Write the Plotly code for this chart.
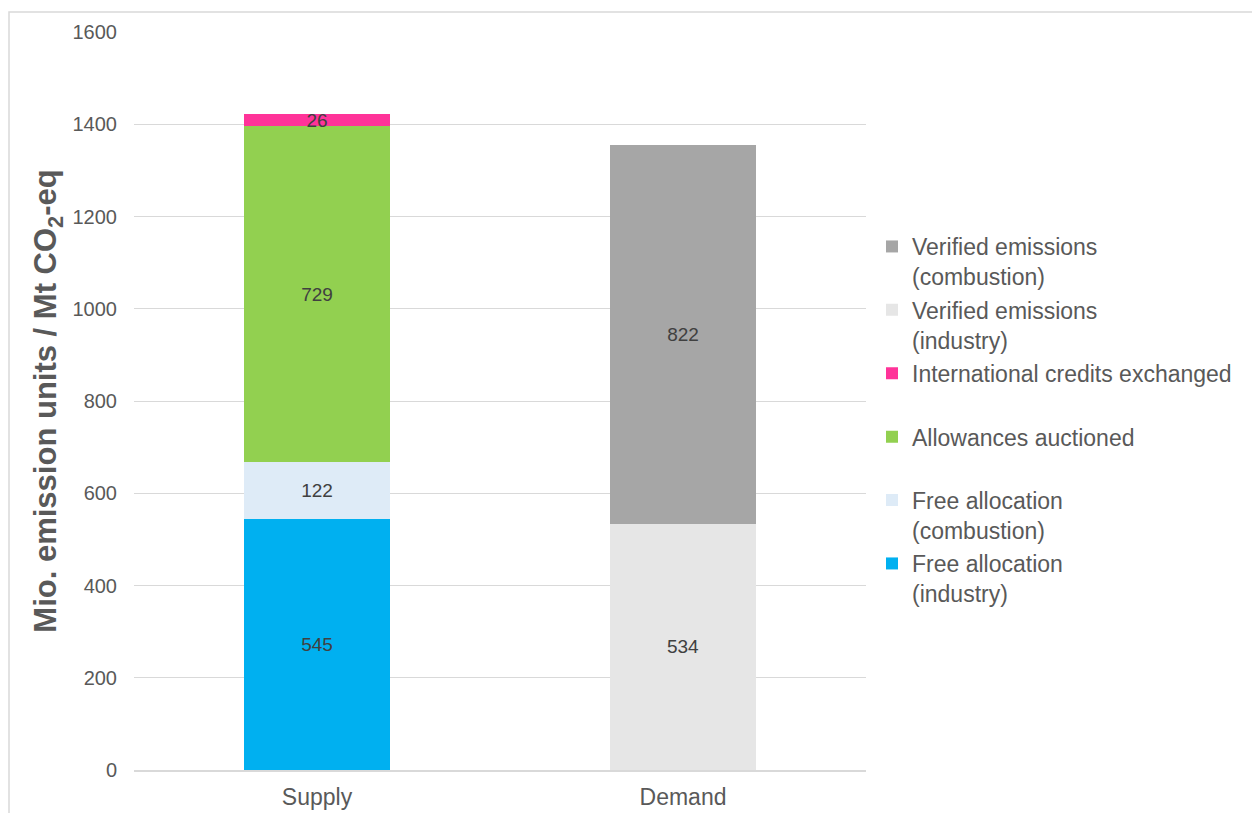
import plotly.graph_objects as go

# Categories on the x axis
categories = ["Supply", "Demand"]

# Supply side (Mt CO2-eq)
free_alloc_industry = [545, None]
free_alloc_combustion = [122, None]
allowances_auctioned = [729, None]
intl_credits = [26, None]

# Demand side (Mt CO2-eq)
verified_industry = [None, 534]
verified_combustion = [None, 822]

y_ticks = [0, 200, 400, 600, 800, 1000, 1200, 1400, 1600]

GRAY_TEXT = "#595959"
LABEL_TEXT = "#404040"
FONT = "Liberation Sans, Arial, sans-serif"

# name, values, colour, legend slot (0 = top row of the key)
series = [
    ("Free allocation<br>(industry)", free_alloc_industry, "#00B0F0", 5),
    ("Free allocation<br>(combustion)", free_alloc_combustion, "#DEEBF7", 4),
    ("Allowances auctioned", allowances_auctioned, "#92D050", 3),
    ("International credits exchanged", intl_credits, "#FF3399", 2),
    ("Verified emissions<br>(industry)", verified_industry, "#E6E6E6", 1),
    ("Verified emissions<br>(combustion)", verified_combustion, "#A6A6A6", 0),
]

L, R, T, B = 134, 1252 - 866, 32, 813 - 770
pw = 1252 - L - R
ph = 813 - T - B

fig = go.Figure()
legends = {}
for name, vals, color, slot in series:
    xs = [c for c, v in zip(categories, vals) if v is not None]
    ys = [v for v in vals if v is not None]
    legend_id = "legend" if slot == 0 else f"legend{slot + 1}"
    fig.add_trace(go.Bar(
        x=xs,
        y=ys,
        name=name,
        legend=legend_id,
        marker=dict(color=color, line=dict(width=0)),
        width=0.4,
        text=[str(v) for v in ys],
        textposition="inside",
        insidetextanchor="middle",
        constraintext="none",
        textangle=0,
        insidetextfont=dict(family=FONT, size=19, color=LABEL_TEXT),
        hoverinfo="x+y+name",
    ))
    # each key entry sits on its own row, 63.4 px apart
    row_center = 246 + 63.4 * slot
    legends[legend_id] = dict(
        x=(872 - L) / pw,
        xanchor="left",
        y=(770 - (row_center - 21)) / ph,
        yanchor="top",
        valign="top",
        font=dict(family=FONT, size=23, color=GRAY_TEXT),
        bgcolor="rgba(0,0,0,0)",
        itemclick=False,
    )

fig.update_layout(
    width=1252,
    height=813,
    barmode="stack",
    bargap=0.6,
    plot_bgcolor="white",
    paper_bgcolor="white",
    margin=dict(l=L, r=R, t=T, b=B, pad=0, autoexpand=False),
    font=dict(family=FONT, color=GRAY_TEXT),
    showlegend=True,
    xaxis=dict(
        categoryorder="array",
        categoryarray=categories,
        automargin=False,
        showgrid=False,
        showline=True,
        linecolor="#D9D9D9",
        linewidth=1.5,
        ticks="",
        tickfont=dict(family=FONT, size=23, color=GRAY_TEXT),
        ticklabelstandoff=6,
    ),
    yaxis=dict(
        automargin=False,
        range=[0, 1600],
        tickvals=y_ticks,
        showgrid=True,
        gridcolor="#D9D9D9",
        gridwidth=1,
        zeroline=False,
        showline=False,
        ticks="",
        tickfont=dict(family=FONT, size=20, color=GRAY_TEXT),
        ticklabelstandoff=16,
        title=dict(
            text="<b>Mio. emission units / Mt CO<sub>2</sub>-eq</b>",
            font=dict(family=FONT, size=31, color=GRAY_TEXT),
            standoff=6,
        ),
    ),
    shapes=[
        dict(
            type="rect",
            xref="paper", yref="paper",
            x0=(9 - L) / pw, x1=(1300 - L) / pw,
            y0=(770 - 860) / ph, y1=(770 - 12) / ph,
            line=dict(color="#D9D9D9", width=1.5),
            fillcolor="rgba(0,0,0,0)",
            layer="below",
        )
    ],
)
fig.update_layout(**legends)

fig.write_html("out.html")
